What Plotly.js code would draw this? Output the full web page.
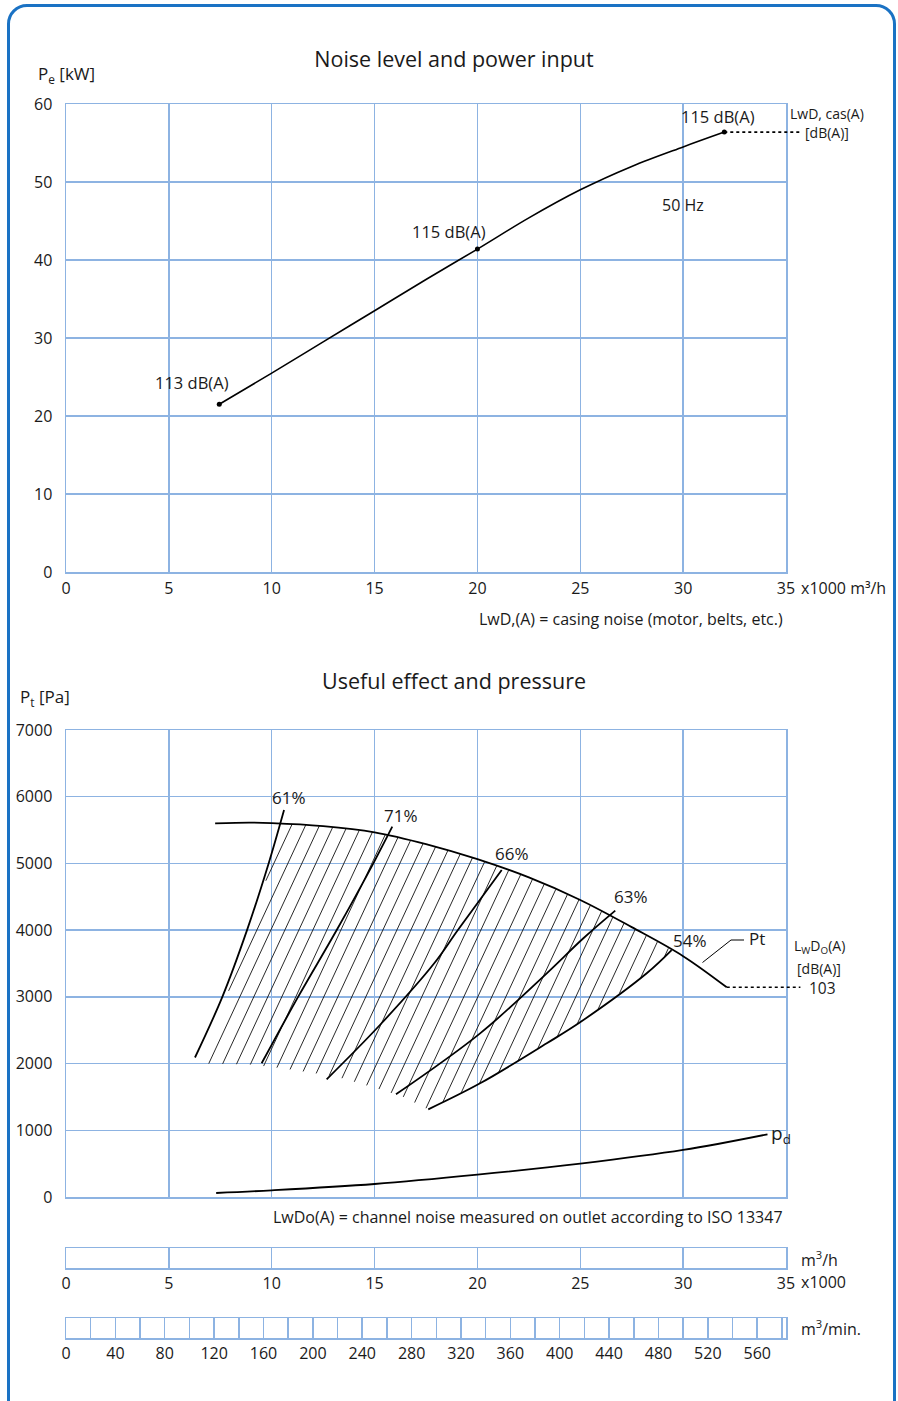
<!DOCTYPE html>
<html>
<head>
<meta charset="utf-8">
<script src="https://cdn.plot.ly/plotly-3.0.1.min.js"></script>
<style>
html,body{margin:0;padding:0;background:#fff;}
body{position:relative;width:898px;height:1401px;overflow:hidden;}
#chart{position:absolute;left:0;top:0;width:898px;height:1401px;}
#frame{position:absolute;left:7px;top:4px;width:889px;height:1420px;border:3px solid #1a72c4;border-radius:20px;box-sizing:border-box;pointer-events:none;z-index:5;}
</style>
</head>
<body>
<div id="chart"></div>
<div id="frame"></div>
<script>
// ---------------- DATA ----------------
// Power input curve, 50 Hz  (x1000 m3/h  ->  kW)
const powerQ  = [7.45, 10, 12.5, 15, 17.5, 20, 22.5, 25, 27.5, 30, 32];
const powerKW = [21.5, 25.5, 29.5, 33.5, 37.5, 41.4, 45.4, 49.0, 52.0, 54.5, 56.4];
// Noise marker points on the power curve
const noiseQ   = [7.45, 20, 32];
const noiseKW  = [21.5, 41.4, 56.4];
const noiseLbl = ['113 dB(A)', '115 dB(A)', '115 dB(A)'];

// Total pressure curve pt  (x1000 m3/h -> Pa)
const ptQ = [7.25, 8.9, 10, 12.5, 15, 17.5, 20, 22.5, 25, 27.5, 30, 32.12];
const ptP = [5600, 5611, 5605, 5560, 5467, 5290, 5064, 4790, 4452, 4045, 3610, 3143];
// Dynamic pressure curve pd
const pdQ = [7.3, 10, 15, 20, 25, 30, 34.1];
const pdP = [60, 100, 195, 335, 500, 705, 940];

// Efficiency (system) lines
const eff61Q = [6.27, 7.6, 8.8, 9.85, 10.6];
const eff61P = [2091, 3000, 4000, 5000, 5801];
const eff71Q = [9.51, 11.29, 13.16, 14.94, 15.86];
const eff71P = [2004, 3003, 4002, 5002, 5551];
const eff66Q = [12.67, 15.26, 17.90, 19.05, 21.18];
const eff66P = [1764, 2578, 3503, 4002, 4902];
const eff63Q = [16.04, 20.13, 23.37, 25.15, 26.70];
const eff63P = [1539, 2453, 3353, 3878, 4292];
const eff54Q = [17.61, 20.13, 23.37, 24.99, 28.23, 29.44];
const eff54P = [1314, 1704, 2304, 2619, 3353, 3700];
const effLabels = ['61%', '71%', '66%', '63%', '54%'];

// Outline of the hatched working area (left and bottom edges)
const hatchLeftQ   = [6.91, 7.8, 8.95, 9.98, 10.55];
const hatchLeftP   = [2000, 3000, 4000, 5000, 5596];
const hatchBottomQ = [6.91, 9.0, 10.5, 12.0, 13.2, 15.1, 16.4];
const hatchBottomP = [2000, 1985, 1930, 1860, 1800, 1630, 1500];

// Noise levels
const casingNoiseEndQ = [32, 35.7];
const ductNoiseEndQ   = [32.12, 35.7];
const ductNoiseLbl    = '103';

// Axis ticks
const flowTicks     = [0, 5, 10, 15, 20, 25, 30, 35];
const flowTickText  = ['0', '5', '10', '15', '20', '25', '30', '35'];
const powerTicks    = [0, 10, 20, 30, 40, 50, 60];
const pressTicks    = [0, 1000, 2000, 3000, 4000, 5000, 6000, 7000];
const flowMinVals   = [0,20,40,60,80,100,120,140,160,180,200,220,240,260,280,300,320,340,360,380,400,420,440,460,480,500,520,540,560,580];
const flowMinText   = ['0','','40','','80','','120','','160','','200','','240','','280','','320','','360','','400','','440','','480','','520','','560',''];
const flowMinMax    = 35000 / 60;

// ---------------- LAYOUT HELPERS ----------------
const W = 898, H = 1401;
const G = '#8db3e2';
const TXT = '#1a1a1a';
const FONT = 'Open Sans, Noto Sans, sans-serif';
const px = v => v / W;
const py = v => 1 - v / H;
const xd = [px(66), px(786)];
const qToPaper = q => xd[0] + (q / 35) * (xd[1] - xd[0]);

// ---------------- HATCH (clip parallel lines to the area outline) ----------------
function interp(xs, ys, x) {
  for (let i = 0; i < xs.length - 1; i++) {
    if (x >= xs[i] && x <= xs[i + 1]) {
      const t = (x - xs[i]) / (xs[i + 1] - xs[i]);
      return ys[i] + t * (ys[i + 1] - ys[i]);
    }
  }
  return ys[ys.length - 1];
}
const poly = [];
const qA = hatchLeftQ[hatchLeftQ.length - 1];
const qB = eff54Q[eff54Q.length - 1];
poly.push([qA, interp(ptQ, ptP, qA)]);
ptQ.forEach((q, i) => { if (q > qA && q < qB) poly.push([q, ptP[i]]); });
for (let i = eff54Q.length - 1; i >= 0; i--) poly.push([eff54Q[i], eff54P[i]]);
for (let i = hatchBottomQ.length - 1; i >= 0; i--) poly.push([hatchBottomQ[i], hatchBottomP[i]]);
for (let i = 1; i < hatchLeftQ.length - 1; i++) poly.push([hatchLeftQ[i], hatchLeftP[i]]);

const pxPerQ = 720 / 35, pxPerPa = 467 / 7000;
const hatchSlopePx = 2.15, hatchStepPx = 14;
const s = hatchSlopePx * pxPerQ / pxPerPa;
const step = hatchStepPx / pxPerQ;
const cRef = hatchBottomQ[0] - hatchBottomP[0] / s + 0.03;
const hx = [], hy = [];
for (let k = -30; k < 60; k++) {
  const c = cRef + k * step;
  const pts = [];
  for (let i = 0; i < poly.length; i++) {
    const A = poly[i], B = poly[(i + 1) % poly.length];
    const fA = A[1] - s * (A[0] - c), fB = B[1] - s * (B[0] - c);
    if ((fA > 0) !== (fB > 0)) {
      const t = fA / (fA - fB);
      pts.push([A[0] + t * (B[0] - A[0]), A[1] + t * (B[1] - A[1])]);
    }
  }
  pts.sort((a, b) => a[0] - b[0]);
  for (let j = 0; j + 1 < pts.length; j += 2) {
    hx.push(pts[j][0], pts[j + 1][0], null);
    hy.push(pts[j][1], pts[j + 1][1], null);
  }
}

// ---------------- TRACES ----------------
const blk = '#000';
const traces = [
  {x: powerQ, y: powerKW, mode: 'lines', line: {color: blk, width: 1.6, shape: 'spline'}, xaxis: 'x', yaxis: 'y', hoverinfo: 'skip'},
  {x: noiseQ, y: noiseKW, mode: 'markers', marker: {color: blk, size: 5}, xaxis: 'x', yaxis: 'y', hoverinfo: 'skip'},
  {x: hx, y: hy, mode: 'lines', line: {color: '#111', width: 0.9}, xaxis: 'x2', yaxis: 'y2', connectgaps: false, hoverinfo: 'skip'},
  {x: ptQ, y: ptP, mode: 'lines', line: {color: blk, width: 1.8, shape: 'spline'}, xaxis: 'x2', yaxis: 'y2', hoverinfo: 'skip'},
  {x: pdQ, y: pdP, mode: 'lines', line: {color: blk, width: 1.8, shape: 'spline'}, xaxis: 'x2', yaxis: 'y2', hoverinfo: 'skip'},
  // scale bars carry no marks; these empty traces make their axes draw
  {x: [], y: [], mode: 'lines', xaxis: 'x3', yaxis: 'y3', hoverinfo: 'skip'},
  {x: [], y: [], mode: 'lines', xaxis: 'x4', yaxis: 'y4', hoverinfo: 'skip'}
];
[[eff61Q, eff61P], [eff71Q, eff71P], [eff66Q, eff66P], [eff63Q, eff63P], [eff54Q, eff54P]].forEach(([q, p]) => {
  traces.push({x: q, y: p, mode: 'lines', line: {color: blk, width: 1.8, shape: 'spline'}, xaxis: 'x2', yaxis: 'y2', hoverinfo: 'skip'});
});

// ---------------- AXES ----------------
const TICK = 16;
const baseAx = {
  showgrid: true, gridcolor: G, gridwidth: 1.5, showline: true, linecolor: G, linewidth: 1.5,
  mirror: true, zeroline: false, ticks: '', tickfont: {size: TICK, color: TXT, family: FONT}, fixedrange: true
};
const layout = {
  width: W, height: H, margin: {l: 0, r: 0, t: 0, b: 0},
  paper_bgcolor: '#fff', plot_bgcolor: '#fff', showlegend: false,
  font: {family: FONT, color: TXT},
  title: {text: 'Noise level and power input', x: px(454), xanchor: 'center', y: py(59), yanchor: 'middle',
          font: {size: 21.5, color: TXT, family: FONT}},
  xaxis: Object.assign({}, baseAx, {domain: xd, range: [0, 35], tickmode: 'array', tickvals: flowTicks, ticktext: flowTickText, anchor: 'y', ticklabelstandoff: 1}),
  yaxis: Object.assign({}, baseAx, {domain: [py(572), py(104)], range: [0, 60], tickmode: 'array', tickvals: powerTicks, anchor: 'x', ticklabelstandoff: 9}),
  xaxis2: Object.assign({}, baseAx, {domain: xd, range: [0, 35], tickmode: 'array', tickvals: flowTicks, showticklabels: false, anchor: 'y2'}),
  yaxis2: Object.assign({}, baseAx, {domain: [py(1197), py(730)], range: [0, 7000], tickmode: 'array', tickvals: pressTicks, anchor: 'x2', ticklabelstandoff: 9}),
  xaxis3: Object.assign({}, baseAx, {domain: xd, range: [0, 35], tickmode: 'array', tickvals: flowTicks, ticktext: flowTickText, anchor: 'y3', ticklabelstandoff: 0}),
  yaxis3: Object.assign({}, baseAx, {domain: [py(1268), py(1248)], range: [0, 1], showgrid: false, showticklabels: false, anchor: 'x3'}),
  xaxis4: Object.assign({}, baseAx, {domain: xd, range: [0, flowMinMax], tickmode: 'array', tickvals: flowMinVals, ticktext: flowMinText, anchor: 'y4', ticklabelstandoff: 0}),
  yaxis4: Object.assign({}, baseAx, {domain: [py(1338), py(1318)], range: [0, 1], showgrid: false, showticklabels: false, anchor: 'x4'}),
  shapes: [
    {type: 'line', xref: 'paper', yref: 'y', x0: qToPaper(casingNoiseEndQ[0]), x1: qToPaper(casingNoiseEndQ[1]),
     y0: noiseKW[2], y1: noiseKW[2], line: {color: blk, width: 1.6, dash: 'dot'}},
    {type: 'line', xref: 'paper', yref: 'y2', x0: qToPaper(ductNoiseEndQ[0]), x1: qToPaper(ductNoiseEndQ[1]),
     y0: ptP[ptP.length - 1], y1: ptP[ptP.length - 1], line: {color: blk, width: 1.6, dash: 'dot'}},
    {type: 'path', xref: 'paper', yref: 'paper',
     path: `M ${px(702.5)} ${py(962.5)} L ${px(731)} ${py(940)} L ${px(744)} ${py(940)}`,
     line: {color: blk, width: 1}}
  ],
  annotations: []
};

function ann(text, x, y, size, xanchor, extra) {
  layout.annotations.push(Object.assign({
    text: text, xref: 'paper', yref: 'paper', x: px(x), y: py(y), xanchor: xanchor || 'center', yanchor: 'middle',
    showarrow: false, font: {size: size, color: TXT, family: FONT}
  }, extra || {}));
}
// Top chart texts
ann('P<sub>e</sub> [kW]', 36, 74, 17, 'left');
ann(noiseLbl[0], 192, 383, 16.5);
ann(noiseLbl[1], 449, 231, 16.5);
ann(noiseLbl[2], 718, 116, 16.5);
ann('50 Hz', 683, 205, 16);
ann('LwD, cas(A)', 827, 114, 14);
ann('[dB(A)]', 827, 132, 14);
ann('x1000 m³/h', 799, 588, 16, 'left');
ann('LwD,(A) = casing noise (motor, belts, etc.)', 785, 619, 16, 'right');
// Bottom chart texts
ann('Useful effect and pressure', 454, 680, 21.5);
ann('P<sub>t</sub> [Pa]', 18, 697, 17, 'left');
ann(effLabels[0], 289, 797, 17);
ann(effLabels[1], 401, 815, 17);
ann(effLabels[2], 512, 853, 17);
ann(effLabels[3], 631, 897, 17);
ann(effLabels[4], 690, 940, 17);
ann('Pt', 747, 939, 17, 'left');
ann('L<sub>W</sub>D<sub>O</sub>(A)', 819, 947, 14);
ann('[dB(A)]', 819, 968, 14);
ann(ductNoiseLbl, 807, 988, 15.5, 'left');
ann('p<sub>d</sub>', 769, 1134, 19, 'left');
ann('LwDo(A) = channel noise measured on outlet according to ISO 13347', 785, 1217, 16, 'right');
// Scale bars
ann('m<sup>3</sup>/h', 799, 1259, 16, 'left');
ann('x1000', 799, 1282, 16, 'left');
ann('m<sup>3</sup>/min.', 799, 1328, 16, 'left');

Plotly.newPlot('chart', traces, layout, {staticPlot: true, displayModeBar: false});
</script>
</body>
</html>
